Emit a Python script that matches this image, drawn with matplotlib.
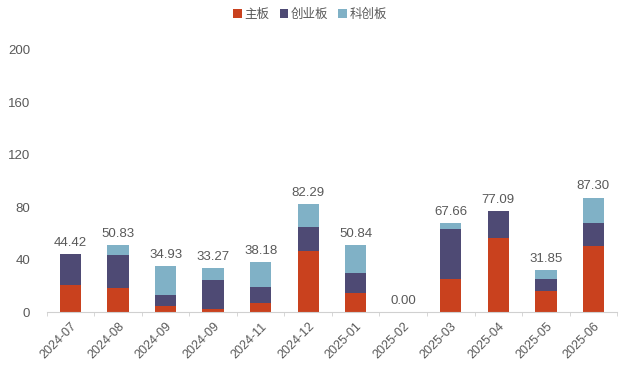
import numpy as np
import matplotlib
matplotlib.use("Agg")
import matplotlib.pyplot as plt

plt.rcParams['font.family'] = ['Liberation Sans', 'Noto Sans CJK SC', 'DejaVu Sans']

# monthly data
months = ['2024-07', '2024-08', '2024-09', '2024-09', '2024-11', '2024-12',
          '2025-01', '2025-02', '2025-03', '2025-04', '2025-05', '2025-06']
main_board = [20.9, 18.6, 4.9, 2.3, 6.6, 46.6, 14.5, 0, 25.0, 56.8, 15.8, 50.4]
chinext = [23.52, 25.2, 8.4, 22.4, 12.3, 18.3, 15.3, 0, 38.6, 20.29, 9.7, 17.3]
star = [0, 7.03, 21.63, 8.57, 19.28, 17.39, 21.04, 0, 4.06, 0, 6.35, 19.6]
totals = [44.42, 50.83, 34.93, 33.27, 38.18, 82.29, 50.84, 0.00, 67.66, 77.09, 31.85, 87.30]

c_main = '#C9411E'
c_gem = '#4E4A74'
c_star = '#80B1C6'

fig = plt.figure(figsize=(6.24, 3.72), dpi=100)
ax = fig.add_axes([0.075, 0.161, 0.914, 0.705])

x = np.arange(len(months))
w = 0.45
main_board = np.array(main_board)
chinext = np.array(chinext)
star = np.array(star)

ax.bar(x, main_board, w, color=c_main, label='主板')
ax.bar(x, chinext, w, bottom=main_board, color=c_gem, label='创业板')
ax.bar(x, star, w, bottom=main_board + chinext, color=c_star, label='科创板')

for xi, t in zip(x, totals):
    ax.text(xi, t + 4, f'{t:.2f}', ha='center', va='bottom', fontsize=9.5, color='#595959')

ax.set_xlim(-0.5, len(months) - 0.5)
ax.set_ylim(0, 200)
ax.set_yticks([0, 40, 80, 120, 160, 200])
ax.tick_params(axis='y', length=0, labelsize=9.5, labelcolor='#595959', pad=12)

ax.set_xticks(x)
ax.set_xticklabels(months, rotation=45, ha='right', rotation_mode='anchor',
                   fontsize=9, color='#595959')
ax.tick_params(axis='x', length=0, pad=6)
ax.set_xticks(np.arange(len(months) + 1) - 0.5, minor=True)
ax.tick_params(axis='x', which='minor', length=3, color='#D0D0D0', direction='out')

for s in ['top', 'right', 'left']:
    ax.spines[s].set_visible(False)
ax.spines['bottom'].set_color('#D0D0D0')

fig.legend(loc='upper center', bbox_to_anchor=(0.497, 1.01), ncol=3, frameon=False,
           handlelength=0.7, handleheight=0.7, handletextpad=0.2,
           columnspacing=0.8, labelcolor='#595959',
           prop={'family': ['Noto Sans CJK SC', 'DejaVu Sans'], 'size': 9})

fig.savefig('out.png', dpi=100)
